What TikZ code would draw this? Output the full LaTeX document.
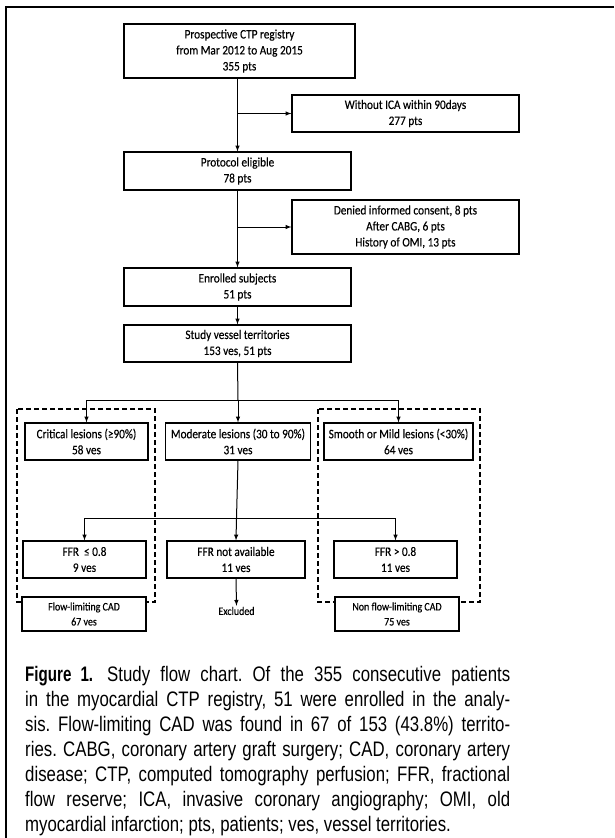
\documentclass[tikz,border=0pt]{standalone}
\usepackage{fontspec}
\usepackage{tikz}
\setmainfont[FakeStretch=0.865,FakeBold=0.3]{Carlito}
\newfontfamily\capfont[FakeStretch=0.8]{Liberation Sans}
\newfontfamily\figfont[FakeStretch=0.72]{Liberation Sans}
\newcommand{\capline}[1]{\makebox[485pt][s]{#1}}
\frenchspacing

\tikzset{
    box/.style 2 args={draw,line width=1.2pt,fill=white,align=center,inner sep=0pt,
        minimum width=#1,minimum height=#2,font=\fontsize{13}{16}\selectfont},
    endbox/.style={box={124pt}{34pt},font=\fontsize{11.5}{15}\selectfont},
    grp/.style={line width=1.2pt,dash pattern=on 5pt off 3pt},
    link/.style={->,line width=1pt},
}

\begin{document}
\begin{tikzpicture}[x=1pt,y=-1pt,>=latex]
    \useasboundingbox (0,0) rectangle (614,838);
    \draw[line width=2pt] (614,7)--(6,7)--(6,838); %frame
    \draw[grp] (17,409) rectangle (155,602); %flow-limiting group
    \draw[grp] (318,409) rectangle (480,602); %non flow-limiting group

    \node[box={231pt}{54pt}] (reg) at (239.5,51) {Prospective CTP registry\\from Mar 2012 to Aug 2015\\355 pts};
    \node[box={227pt}{37pt}] (noica) at (405.5,113.5) {Without ICA within 90days\\277 pts};
    \node[box={227pt}{38pt}] (elig) at (237.5,171) {Protocol eligible\\78 pts};
    \node[box={227pt}{54pt}] (denied) at (405.5,227) {Denied informed consent, 8 pts\\After CABG, 6 pts\\History of OMI, 13 pts};
    \node[box={227pt}{38pt}] (enrol) at (237.5,287) {Enrolled subjects\\51 pts};
    \node[box={227pt}{37pt}] (study) at (237.5,343.5) {Study vessel territories\\153 ves, 51 pts};
    \node[box={123pt}{37pt}] (crit) at (86.5,441.5) {Critical lesions (≥90\%)\\58 ves};
    \node[box={145pt}{37pt}] (mod) at (238,441.5) {Moderate lesions (30 to 90\%)\\31 ves};
    \node[box={149pt}{37pt}] (mild) at (398.5,441.5) {Smooth or Mild lesions (<30\%)\\64 ves};
    \node[box={123pt}{37pt}] (ffrlo) at (84.5,559.5) {FFR~ ≤ 0.8\\9 ves};
    \node[box={138pt}{37pt}] (ffrna) at (236,559.5) {FFR not available\\11 ves};
    \node[box={123pt}{37pt}] (ffrhi) at (395.5,559.5) {FFR > 0.8\\11 ves};
    \node[endbox] (flow) at (84,614) {Flow-limiting CAD\\67 ves};
    \node[endbox] (nonflow) at (397,614) {Non flow-limiting CAD\\75 ves};
    \node[font=\fontsize{11.5}{13}\selectfont,inner sep=1pt] (out) at (236.5,611) {Excluded};
    \coordinate (split1) at (238,400);
    \coordinate (split2) at (236.5,518);

    \draw[link] (reg.south -| elig.north) -- (elig.north);
    \draw[link] (noica.west -| elig.north) -- (noica.west);
    \draw[link] (elig.south) -- (enrol.north);
    \draw[link] (denied.west -| enrol.north) -- (denied.west);
    \draw[link] (enrol.south) -- (study.north);
    \draw[line width=1pt] (study.south) -- (split1);
    \draw[link] (split1) -| (crit.north);
    \draw[link] (split1) -- (mod.north);
    \draw[link] (split1) -| (mild.north);
    \draw[line width=1pt] (mod.south) -- (split2);
    \draw[link] (split2) -| (ffrlo.north);
    \draw[link] (split2) -- (ffrna.north);
    \draw[link] (split2) -| (ffrhi.north);
    \draw[link] (ffrna.south) -- (out.north);

    \node[anchor=north west,inner sep=0pt] (caption) at (25,666) {\parbox[t]{485pt}{%
        \capfont\fontsize{21}{25}\selectfont\parindent=0pt
        \capline{{\figfont\bfseries Figure 1.}\hspace*{14pt}Study flow chart. Of the 355 consecutive patients}\\
        \capline{in the myocardial CTP registry, 51 were enrolled in the analy-}\\
        \capline{sis. Flow-limiting CAD was found in 67 of 153 (43.8\%) territo-}\\
        \capline{ries. CABG, coronary artery graft surgery; CAD, coronary artery}\\
        \capline{disease; CTP, computed tomography perfusion; FFR, fractional}\\
        \capline{flow reserve; ICA, invasive coronary angiography; OMI, old}\\
        myocardial infarction; pts, patients; ves, vessel territories.}};
\end{tikzpicture}
\end{document}
